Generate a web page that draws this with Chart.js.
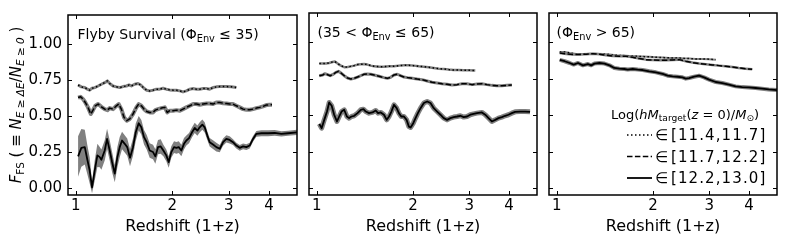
<!DOCTYPE html>
<html>
<head>
<meta charset="utf-8">
<script src="https://cdn.jsdelivr.net/npm/chart.js@4.4.1/dist/chart.umd.min.js"></script>
<style>
  html, body { margin: 0; padding: 0; background: #fff; }
  #wrap { position: relative; width: 789px; height: 241px; }
  #wrap canvas { position: absolute; top: 0; }
</style>
</head>
<body>
<div id="wrap">
  <canvas id="c1" width="302" height="241" style="left:0px"></canvas>
  <canvas id="c2" width="240" height="241" style="left:302px"></canvas>
  <canvas id="c3" width="247" height="241" style="left:542px"></canvas>
</div>
<script>
// ---- data: redshift (1+z) and F_FS ----
const xTickVals = [1, 2, 3, 4];
const yTickVals = [0, 0.25, 0.5, 0.75, 1.0];
const massBins = ['[11.4,11.7]', '[11.7,12.2]', '[12.2,13.0]'];

// panel 1: Phi_Env <= 35
const p1DotZ = [1.017,1.041,1.067,1.087,1.105,1.124,1.146,1.174,1.202,1.231,1.255,1.276,1.307,1.339,1.371,1.404,1.438,1.466,1.490,1.526,1.563,1.594,1.632,1.664,1.700,1.741,1.782,1.827,1.871,1.915,1.962,2.009,2.059,2.110,2.159,2.211,2.266,2.321,2.378,2.433,2.494,2.556,2.614,2.677,2.742,2.810,2.877,2.946,3.053,3.165];
const p1DotF = [0.716,0.703,0.698,0.687,0.680,0.693,0.698,0.709,0.721,0.732,0.744,0.726,0.709,0.703,0.698,0.705,0.709,0.716,0.709,0.721,0.726,0.716,0.693,0.680,0.675,0.680,0.687,0.687,0.693,0.687,0.682,0.680,0.680,0.675,0.668,0.675,0.687,0.691,0.687,0.687,0.691,0.691,0.687,0.698,0.703,0.705,0.705,0.705,0.703,0.698];
const p1DashZ = [1.017,1.036,1.054,1.071,1.092,1.114,1.132,1.151,1.174,1.202,1.231,1.255,1.276,1.307,1.339,1.361,1.387,1.414,1.442,1.473,1.508,1.545,1.571,1.601,1.632,1.664,1.700,1.741,1.770,1.804,1.848,1.894,1.928,1.962,2.009,2.059,2.110,2.159,2.211,2.266,2.321,2.378,2.433,2.494,2.556,2.614,2.677,2.742,2.810,2.877,2.946,3.017,3.090,3.165,3.243,3.321,3.401,3.483,3.567,3.654,3.744,3.833,3.925,4.021,4.088];
const p1DashF = [0.629,0.634,0.618,0.595,0.561,0.515,0.542,0.572,0.584,0.565,0.549,0.542,0.556,0.549,0.572,0.584,0.549,0.492,0.469,0.481,0.515,0.561,0.584,0.572,0.549,0.533,0.526,0.526,0.542,0.549,0.556,0.561,0.526,0.538,0.538,0.542,0.538,0.549,0.561,0.572,0.584,0.584,0.579,0.584,0.588,0.588,0.584,0.595,0.595,0.590,0.588,0.584,0.584,0.572,0.561,0.549,0.545,0.545,0.549,0.556,0.561,0.568,0.577,0.579,0.579];
const p1SolidZ = [1.017,1.041,1.067,1.087,1.105,1.124,1.146,1.168,1.188,1.202,1.231,1.252,1.276,1.298,1.323,1.348,1.371,1.394,1.421,1.447,1.476,1.508,1.538,1.571,1.601,1.632,1.664,1.700,1.741,1.770,1.804,1.839,1.875,1.915,1.948,1.985,2.024,2.059,2.094,2.133,2.174,2.211,2.254,2.303,2.348,2.393,2.433,2.480,2.522,2.570,2.614,2.677,2.742,2.810,2.877,2.946,3.017,3.090,3.165,3.243,3.321,3.401,3.483,3.567,3.654,3.788,3.973,4.168,4.371,4.585,4.926];
const p1SolidF = [0.222,0.281,0.286,0.199,0.126,0.007,0.126,0.229,0.217,0.199,0.263,0.343,0.263,0.183,0.103,0.217,0.286,0.332,0.309,0.286,0.213,0.286,0.389,0.451,0.423,0.355,0.320,0.263,0.252,0.222,0.286,0.291,0.263,0.229,0.183,0.252,0.286,0.281,0.286,0.263,0.309,0.332,0.348,0.389,0.419,0.400,0.423,0.442,0.423,0.366,0.320,0.304,0.286,0.275,0.320,0.343,0.336,0.320,0.297,0.281,0.291,0.286,0.297,0.343,0.378,0.382,0.382,0.384,0.378,0.382,0.389];
const p1SolidErr = [0.14,0.13,0.12,0.10,0.09,0.04,0.07,0.08,0.07,0.07,0.07,0.07,0.07,0.07,0.06,0.07,0.07,0.06,0.06,0.06,0.06,0.06,0.06,0.05,0.05,0.05,0.05,0.05,0.05,0.05,0.05,0.05,0.04,0.04,0.04,0.04,0.04,0.04,0.04,0.04,0.04,0.035,0.035,0.035,0.035,0.035,0.035,0.035,0.035,0.03,0.03,0.03,0.03,0.025,0.025,0.025,0.025,0.02,0.02,0.02,0.02,0.02,0.02,0.02,0.02,0.02,0.02,0.02,0.018,0.018,0.018];

// panel 2: 35 < Phi_Env <= 65
const p2DotZ = [1.019,1.044,1.069,1.094,1.121,1.140,1.163,1.190,1.219,1.249,1.279,1.310,1.342,1.374,1.407,1.441,1.476,1.512,1.567,1.624,1.684,1.745,1.808,1.875,1.943,2.014,2.087,2.164,2.242,2.324,2.409,2.497,2.588,2.683,2.781,2.883,2.988,3.135];
const p2DotF = [0.854,0.854,0.854,0.858,0.865,0.868,0.854,0.840,0.829,0.831,0.835,0.840,0.847,0.849,0.851,0.847,0.840,0.835,0.833,0.833,0.835,0.835,0.840,0.842,0.842,0.840,0.835,0.833,0.829,0.824,0.819,0.817,0.813,0.810,0.810,0.808,0.808,0.806];
const p2DashZ = [1.019,1.044,1.061,1.082,1.102,1.121,1.148,1.171,1.190,1.219,1.249,1.279,1.310,1.342,1.374,1.407,1.441,1.476,1.512,1.567,1.624,1.664,1.704,1.745,1.788,1.830,1.875,1.921,1.991,2.063,2.138,2.216,2.297,2.381,2.468,2.558,2.652,2.750,2.850,2.954,3.061,3.173,3.288,3.409,3.533,3.663,3.796,3.936,4.079];
const p2DashF = [0.771,0.776,0.785,0.778,0.771,0.778,0.794,0.801,0.790,0.771,0.755,0.748,0.753,0.762,0.771,0.781,0.783,0.781,0.776,0.767,0.758,0.753,0.760,0.776,0.781,0.771,0.762,0.758,0.753,0.748,0.744,0.735,0.726,0.721,0.716,0.712,0.707,0.710,0.716,0.716,0.710,0.714,0.716,0.710,0.705,0.703,0.703,0.705,0.707];
const p2SolidZ = [1.019,1.036,1.056,1.077,1.094,1.114,1.134,1.157,1.176,1.196,1.219,1.243,1.263,1.285,1.310,1.342,1.374,1.401,1.424,1.458,1.494,1.530,1.556,1.586,1.624,1.656,1.684,1.713,1.745,1.779,1.808,1.839,1.875,1.911,1.943,1.967,2.005,2.038,2.073,2.113,2.164,2.216,2.270,2.324,2.381,2.439,2.497,2.558,2.620,2.683,2.750,2.815,2.883,2.954,3.024,3.097,3.173,3.288,3.368,3.449,3.533,3.618,3.705,3.796,3.888,3.981,4.079,4.177,4.330,4.487,4.651];
const p2SolidF = [0.442,0.412,0.469,0.526,0.588,0.565,0.504,0.458,0.492,0.526,0.538,0.492,0.481,0.492,0.497,0.515,0.538,0.542,0.526,0.515,0.520,0.533,0.515,0.520,0.504,0.469,0.492,0.526,0.572,0.549,0.515,0.492,0.492,0.469,0.423,0.417,0.446,0.481,0.515,0.549,0.584,0.595,0.584,0.549,0.526,0.504,0.481,0.469,0.481,0.488,0.492,0.497,0.488,0.492,0.504,0.510,0.515,0.520,0.504,0.481,0.458,0.469,0.481,0.488,0.497,0.504,0.515,0.524,0.526,0.526,0.524];

// panel 3: Phi_Env > 65
const p3DotZ = [1.022,1.059,1.098,1.151,1.208,1.267,1.329,1.394,1.463,1.534,1.609,1.688,1.771,1.857,1.948,2.044,2.145,2.249,2.360,2.474,2.595,2.723,2.857,2.997,3.144];
const p3DotF = [0.934,0.934,0.927,0.920,0.920,0.922,0.922,0.920,0.916,0.911,0.909,0.906,0.904,0.902,0.900,0.897,0.895,0.893,0.893,0.890,0.888,0.886,0.886,0.884,0.881];
const p3DashZ = [1.022,1.072,1.124,1.179,1.237,1.298,1.361,1.428,1.497,1.571,1.648,1.729,1.814,1.902,1.995,2.094,2.196,2.304,2.416,2.534,2.658,2.789,2.926,3.069,3.220,3.378,3.543,3.717,3.899,4.090];
const p3DashF = [0.927,0.920,0.916,0.916,0.918,0.922,0.918,0.911,0.906,0.904,0.904,0.897,0.888,0.881,0.879,0.877,0.877,0.879,0.881,0.870,0.861,0.854,0.849,0.845,0.840,0.835,0.831,0.824,0.819,0.815];
const p3SolidZ = [1.022,1.059,1.098,1.130,1.166,1.208,1.252,1.282,1.313,1.361,1.411,1.463,1.515,1.571,1.628,1.668,1.729,1.792,1.857,1.948,2.044,2.145,2.223,2.304,2.388,2.474,2.534,2.595,2.691,2.789,2.891,2.997,3.144,3.298,3.459,3.629,3.807,3.993,4.189,4.393,4.608,4.892];
const p3SolidF = [0.879,0.870,0.858,0.847,0.858,0.842,0.851,0.842,0.854,0.858,0.854,0.842,0.824,0.819,0.817,0.813,0.817,0.813,0.810,0.801,0.794,0.783,0.771,0.767,0.764,0.760,0.751,0.755,0.764,0.771,0.760,0.744,0.728,0.721,0.710,0.698,0.693,0.691,0.687,0.682,0.677,0.673];

// ---- text (mathtext-like segments: n normal, i italic, s subscript) ----
const yTitle = [['F','i'],['FS','s'],[' ( ≡ ','n'],['N','i'],['E ≥ ΔE','si'],['/','n'],['N','i'],['E ≥ 0','si'],[' )','n']];
const panelLabels = [
  [['Flyby Survival (Φ','n'],['Env','s'],[' ≤ 35)','n']],
  [['(35 < Φ','n'],['Env','s'],[' ≤ 65)','n']],
  [['(Φ','n'],['Env','s'],[' > 65)','n']]
];
const legendTitle = [['Log(','n'],['hM','i'],['target','s'],['(','n'],['z','i'],[' = 0)/','n'],['M','i'],['⊙','s'],[')','n']];

const FONT = '"DejaVu Sans"';
const GREY = '#808080';

function richFont(style, size) {
  const sub = style.indexOf('s') >= 0;
  const it = style.indexOf('i') >= 0;
  return (it ? 'italic ' : '') + (sub ? size * 0.7 : size).toFixed(1) + 'px ' + FONT;
}

function drawRich(ctx, segs, x, y, size, rotate, spacing) {
  ctx.save();
  if (spacing) ctx.letterSpacing = spacing + 'px';
  let w = 0;
  segs.forEach(s => { ctx.font = richFont(s[1], size); w += ctx.measureText(s[0]).width; });
  ctx.translate(x, y);
  let cx = 0;
  if (rotate) { ctx.rotate(-Math.PI / 2); cx = -w / 2; }
  ctx.fillStyle = '#000';
  ctx.textBaseline = 'alphabetic';
  segs.forEach(s => {
    ctx.font = richFont(s[1], size);
    ctx.fillText(s[0], cx, s[1].indexOf('s') >= 0 ? size * 0.22 : 0);
    cx += ctx.measureText(s[0]).width;
  });
  ctx.restore();
  return w;
}

function pts(zs, fs) {
  return zs.map((z, i) => ({ x: z, y: fs[i] }));
}

function line(data, opts) {
  return Object.assign({
    data, borderColor: '#000', borderWidth: 1.5, borderDash: [], pointRadius: 0,
    fill: false, tension: 0, borderCapStyle: 'butt', borderJoinStyle: 'round'
  }, opts);
}

const DOT = [1.5, 2.5];
const DASH = [5.5, 2.4];

function panelSets(dotZ, dotF, dashZ, dashF, solidZ, solidF, halo) {
  const sets = [
    line(pts(dotZ, dotF), { borderColor: GREY, borderWidth: halo[0], order: 8 }),
    line(pts(dotZ, dotF), { label: massBins[0], borderDash: DOT, order: 7 }),
    line(pts(dashZ, dashF), { borderColor: GREY, borderWidth: halo[1], order: 6 }),
    line(pts(dashZ, dashF), { label: massBins[1], borderDash: DASH, order: 5 }),
    line(pts(solidZ, solidF), { label: massBins[2], borderWidth: 1.8, order: 3 })
  ];
  if (halo[2] > 0) {
    sets.push(line(pts(solidZ, solidF), { borderColor: GREY, borderWidth: halo[2], order: 4 }));
  }
  return sets;
}

// canvas-local x of the legend in panel 3 (canvas starts at page x 542)
const LEG_X0 = 69, LEG_LINE = [85, 110], LEG_ELEM = 113, LEG_TEXT = 129;
const LEG_ROWS = [135, 156.5, 178];

function framePlugin(idx) {
  return {
    id: 'frame' + idx,
    afterDatasetsDraw(chart) {
      const { ctx, chartArea: a, scales: { x, y } } = chart;
      ctx.save();
      ctx.strokeStyle = '#000';
      ctx.lineWidth = 1;
      ctx.beginPath();
      xTickVals.forEach(v => {
        const px = Math.round(x.getPixelForValue(v)) + 0.5;
        ctx.moveTo(px, a.bottom); ctx.lineTo(px, a.bottom - 4);
        ctx.moveTo(px, a.top); ctx.lineTo(px, a.top + 4);
      });
      yTickVals.forEach(v => {
        const py = Math.round(y.getPixelForValue(v)) + 0.5;
        ctx.moveTo(a.left, py); ctx.lineTo(a.left + 4, py);
        ctx.moveTo(a.right, py); ctx.lineTo(a.right - 4, py);
      });
      ctx.stroke();
      ctx.lineWidth = 1.5;
      ctx.strokeRect(a.left, a.top, a.right - a.left, a.bottom - a.top);

      const offs = [9.5, 8.5, 7.5];
      drawRich(ctx, panelLabels[idx], a.left + offs[idx], a.top + 24, 14, false);

      if (idx === 0) {
        drawRich(ctx, yTitle, 20.5, (a.top + a.bottom) / 2, 15, true);
      }
      if (idx === 2) {
        drawRich(ctx, legendTitle, LEG_X0, 118.5, 13, false);
        massBins.forEach((lab, i) => {
          const ds = chart.data.datasets.find(d => d.label === lab);
          ctx.save();
          ctx.strokeStyle = ds.borderColor;
          ctx.lineWidth = ds.borderWidth;
          ctx.setLineDash(ds.borderDash || []);
          ctx.beginPath();
          ctx.moveTo(LEG_LINE[0], LEG_ROWS[i]); ctx.lineTo(LEG_LINE[1], LEG_ROWS[i]);
          ctx.stroke();
          ctx.restore();
          drawRich(ctx, [['∈', 'n']], LEG_ELEM, LEG_ROWS[i] + 5, 15, false);
          drawRich(ctx, [[lab, 'n']], LEG_TEXT, LEG_ROWS[i] + 5, 15, false, 1.1);
        });
      }
      ctx.restore();
    }
  };
}

function makeChart(id, idx, datasets, padding, showY) {
  const canvas = document.getElementById(id);
  return new Chart(canvas.getContext('2d'), {
    type: 'line',
    data: { datasets },
    options: {
      responsive: false,
      animation: false,
      events: [],
      layout: { padding },
      plugins: { legend: { display: false }, tooltip: { enabled: false } },
      scales: {
        x: {
          type: 'logarithmic',
          min: 0.946,
          max: 4.89,
          afterBuildTicks: (axis) => { axis.ticks = xTickVals.map(v => ({ value: v })); },
          afterFit: (axis) => { axis.height = 46; },
          grid: { display: false, drawTicks: false },
          border: { display: false },
          ticks: {
            autoSkip: false, maxRotation: 0, padding: 2, color: '#000',
            font: { family: FONT, size: 15 },
            callback: (v) => String(v)
          },
          title: {
            display: true, text: 'Redshift (1+z)', color: '#000',
            font: { family: FONT, size: 16 }, padding: { top: 0, bottom: 5 }
          }
        },
        y: {
          min: -0.045,
          max: 1.2,
          display: showY,
          afterBuildTicks: (axis) => { axis.ticks = yTickVals.map(v => ({ value: v })); },
          afterFit: (axis) => { axis.width = showY ? 68 : 0; },
          grid: { display: false, drawTicks: false },
          border: { display: false },
          ticks: {
            padding: 6, color: '#000',
            font: { family: FONT, size: 15 },
            callback: (v) => v.toFixed(2)
          }
        }
      }
    },
    plugins: [framePlugin(idx)]
  });
}

// panel 1 has a wide uncertainty band on the most massive bin
const p1Sets = [
  line(pts(p1SolidZ, p1SolidF.map((f, i) => f - p1SolidErr[i])), { borderWidth: 0, order: 10 }),
  line(pts(p1SolidZ, p1SolidF.map((f, i) => f + p1SolidErr[i])), { borderWidth: 0, fill: '-1', backgroundColor: GREY, order: 9 })
].concat(panelSets(p1DotZ, p1DotF, p1DashZ, p1DashF, p1SolidZ, p1SolidF, [3, 4, 0]));

makeChart('c1', 0, p1Sets, { top: 13, right: 5, left: 0, bottom: 0 }, true);
makeChart('c2', 1, panelSets(p2DotZ, p2DotF, p2DashZ, p2DashF, p2SolidZ, p2SolidF, [2.5, 3, 5]), { top: 13, right: 5, left: 7, bottom: 0 }, false);
makeChart('c3', 2, panelSets(p3DotZ, p3DotF, p3DashZ, p3DashF, p3SolidZ, p3SolidF, [2, 2.5, 4]), { top: 13, right: 12, left: 7, bottom: 0 }, false);
</script>
</body>
</html>
